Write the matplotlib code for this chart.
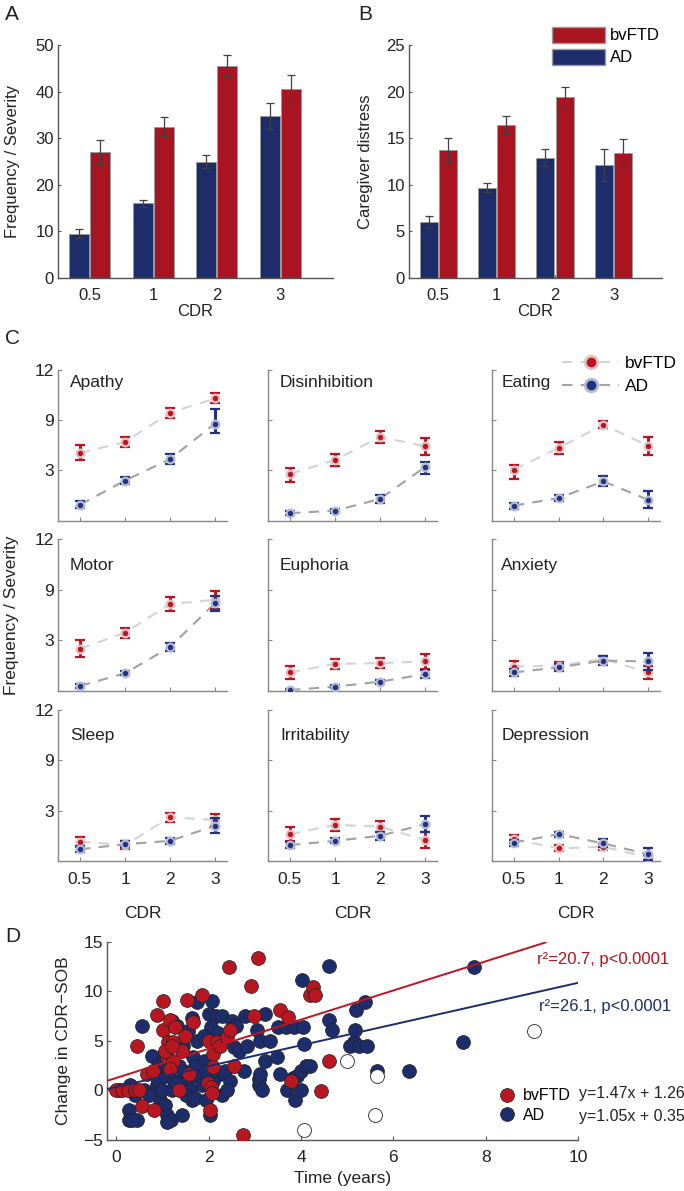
import numpy as np
import matplotlib
matplotlib.use('Agg')
import matplotlib.pyplot as plt
from matplotlib.lines import Line2D
from matplotlib.patches import Patch

plt.rcParams['font.family'] = ['Liberation Sans', 'DejaVu Sans']

# ---- data ----
cdr = ['0.5', '1', '2', '3']

# panel A: total NPI frequency x severity
ad_total = [9.5, 16.0, 25.0, 34.7]
ad_total_err = [1.0, 0.8, 1.5, 2.8]
ftd_total = [27.1, 32.5, 45.6, 40.6]
ftd_total_err = [2.6, 2.0, 2.2, 3.0]

# panel B: caregiver distress
ad_distress = [6.0, 9.7, 12.9, 12.1]
ad_distress_err = [0.6, 0.5, 0.9, 1.7]
ftd_distress = [13.7, 16.4, 19.4, 13.4]
ftd_distress_err = [1.3, 1.0, 1.1, 1.5]

# panel C: domains
domains = ['Apathy', 'Disinhibition', 'Eating',
           'Motor', 'Euphoria', 'Anxiety',
           'Sleep', 'Irritability', 'Depression']
ftd_dom = [[5.1, 6.4, 9.45, 10.3],
           [2.8, 4.25, 7.0, 5.9],
           [3.1, 5.7, 8.45, 5.95],
           [2.5, 3.9, 7.3, 7.8],
           [1.1, 1.6, 1.65, 1.75],
           [1.45, 1.5, 1.9, 1.1],
           [1.15, 0.95, 2.6, 2.45],
           [1.6, 2.15, 2.05, 1.25],
           [1.3, 0.75, 0.85, 0.22]]
ftd_dom_err = [[0.9, 0.6, 0.3, 0.3],
               [0.5, 0.7, 0.7, 1.0],
               [0.6, 0.7, 0.4, 1.1],
               [0.5, 0.6, 0.8, 1.1],
               [0.4, 0.3, 0.3, 0.45],
               [0.3, 0.2, 0.2, 0.36],
               [0.3, 0.24, 0.27, 0.36],
               [0.42, 0.36, 0.33, 0.5],
               [0.24, 0.18, 0.18, 0.15]]
ad_dom = [[0.95, 2.4, 4.35, 8.6],
          [0.45, 0.6, 1.3, 3.4],
          [0.9, 1.35, 2.35, 1.25],
          [0.3, 1.05, 2.6, 7.4],
          [0.06, 0.26, 0.55, 1.0],
          [1.1, 1.4, 1.8, 1.75],
          [0.7, 1.0, 1.2, 2.1],
          [0.95, 1.2, 1.5, 2.2],
          [1.1, 1.6, 1.05, 0.4]]
ad_dom_err = [[0.2, 0.2, 0.6, 1.1],
              [0.12, 0.12, 0.25, 0.6],
              [0.18, 0.18, 0.3, 0.5],
              [0.1, 0.12, 0.25, 0.9],
              [0.05, 0.08, 0.12, 0.24],
              [0.2, 0.2, 0.25, 0.5],
              [0.18, 0.18, 0.2, 0.45],
              [0.18, 0.15, 0.25, 0.48],
              [0.18, 0.15, 0.24, 0.36]]

# panel D: change in CDR-SOB over time
ftd_t = [0.0, 0.12, 0.25, 0.4, 0.5, 0.45, 0.55, 0.66, 0.8, 0.82, 0.88, 1.01, 1.02,
         1.06, 1.10, 1.13, 1.17, 1.24, 1.24, 1.17, 1.28, 1.35, 1.42, 1.49, 1.53,
         1.57, 1.66, 1.85, 1.98, 2.0, 2.05, 2.07, 2.03, 2.1, 2.1, 2.19, 2.25, 2.4,
         2.47, 2.45, 2.54, 2.74, 2.91, 2.99, 3.08, 3.54, 3.71, 3.78, 4.2, 4.26,
         4.31, 4.43, 4.6, 1.05, 1.2]
ftd_d = [0.0, 0.0, 0.0, 0.0, 0.0, 4.5, -1.6, 1.7, 2.0, -2.0, 7.6, 9.0, 6.05,
         3.9, 3.4, 4.9, 7.1, 4.9, 3.0, 2.2, 6.4, 0.0, 4.0, 5.5, 9.1,
         1.7, 6.9, 9.6, 0.7, 5.0, 0.3, -0.3, -2.0, 3.7, 2.4, 4.9, 4.5, 5.4,
         6.05, 12.4, 2.5, -4.5, 10.5, 7.5, 13.4, 8.1, 7.4, 1.0, 9.6, 10.4,
         9.6, -0.1, 3.0, 4.0, 4.5]
ad_t = [0.05, 0.3, 0.4, 0.27, 0.27, 0.45, 0.35, 0.56, 0.84, 0.88, 0.95, 0.9, 1.0,
        1.05, 1.1, 1.18, 1.05, 0.77, 1.2, 1.25, 1.3, 1.4, 1.45, 1.31, 1.42, 1.64,
        1.67, 1.75, 1.9, 2.0, 2.15, 2.28, 2.05, 2.2, 2.07, 2.03, 2.25, 2.35, 2.47,
        2.54, 2.65, 2.83, 2.76, 2.79, 3.04, 3.12, 3.22, 3.33, 3.22, 3.1, 3.1, 3.12,
        3.15, 3.48, 3.5, 3.68, 3.84, 3.55, 3.7, 3.82, 3.88, 3.92, 4.0, 4.12, 4.2,
        4.0, 4.02, 4.04, 4.07, 4.6, 4.6, 4.67, 5.14, 5.18, 5.2, 5.06, 5.25, 5.43,
        5.39, 5.64, 6.35, 7.52, 7.74, 1.55, 1.6, 1.7, 1.8, 1.85, 1.95, 2.1, 2.3,
        1.5, 1.7, 0.6, 0.7, 1.0, 1.55, 1.45, 1.75, 1.9, 2.5, 2.6, 2.4, 1.65, 1.2,
        0.9, 1.35, 1.95, 1.1]
ad_d = [0.0, 0.5, -0.5, -2.0, -3.0, -3.0, -3.0, 6.5, -0.3, 0.5, -1.0, 1.0, 0.0,
        -1.5, -2.5, -3.0, 1.5, 3.5, 0.0, 1.0, 0.7, 0.0, 2.0, 6.5, -2.5, -1.0,
        3.4, 8.9, 3.0, 7.7, 7.5, 7.5, 6.4, 5.8, 9.0, -2.5, 1.7, 2.0, 1.0,
        4.4, 4.0, 4.5, 2.0, 7.5, 6.05, 5.0, 7.7, 5.0, 3.0, 0.5, 1.2, 1.7,
        0.0, 3.4, 6.4, 6.4, 6.4, 1.7, 0.0, 1.3, -1.0, 1.5, 2.0, 2.5, 2.5,
        0.0, 11.1, 6.4, 4.7, 12.5, 7.1, 6.05, 4.9, 6.05, 8.1, 4.5, 4.5, 4.5,
        8.9, 2.0, 1.95, 4.9, 12.45, 1.0, 0.0, 2.5, 1.5, 0.5, 2.0, 1.0, -0.5,
        -0.5, -0.8, 0.0, -0.5, 3.0, 6.0, 4.5, 5.0, 5.5, 7.0, 6.5, 0.0, 7.3, 7.0,
        2.5, 2.5, -1.0, -3.2]
other_t = [4.99, 5.64, 5.61, 4.07, 9.05]
other_d = [3.0, 1.5, -2.5, -4.0, 6.0]
ftd_fit = (1.47, 1.26)
ad_fit = (1.05, 0.35)
ftd_fit_range = [-0.2, 9.3]
ad_fit_range = [-0.2, 10.0]

NAVY = '#1d2c6b'
RED = '#a8141f'
C_RED = '#c0121f'
C_BLUE = '#213184'
TXT = '#222222'

W, H = 684, 1191
fig = plt.figure(figsize=(W / 100, H / 100), dpi=100)


def add_ax(l, t, r, b):
    return fig.add_axes([l / W, 1 - b / H, (r - l) / W, (b - t) / H])


def clean(ax, color='#555555'):
    for s in ['top', 'right']:
        ax.spines[s].set_visible(False)
    for s in ['left', 'bottom']:
        ax.spines[s].set_color(color)
        ax.spines[s].set_linewidth(1.0)


x = np.arange(1, 5)


def bar_panel(ax, ad, ad_e, ftd, ftd_e, ymax, ystep, ylabel, ylab_x):
    ax.bar(x - 0.165, ad, 0.31, color=NAVY, edgecolor='#9a9a9a', lw=0.7, zorder=2)
    ax.bar(x + 0.165, ftd, 0.31, color=RED, edgecolor='#9a9a9a', lw=0.7, zorder=2)
    ax.errorbar(x - 0.165, ad, yerr=ad_e, fmt='none', ecolor='#404040',
                elinewidth=0.9, capsize=3, capthick=0.9, zorder=3)
    ax.errorbar(x + 0.165, ftd, yerr=ftd_e, fmt='none', ecolor='#404040',
                elinewidth=0.9, capsize=3, capthick=0.9, zorder=3)
    ax.set_xlim(0.5, 4.83)
    ax.set_ylim(0, ymax)
    ax.set_yticks(np.arange(0, ymax + 1, ystep))
    ax.set_xticks(x)
    ax.set_xticklabels(cdr)
    ax.tick_params(direction='in', length=2, labelsize=12, colors='#555555',
                   labelcolor=TXT)
    ax.tick_params(axis='x', pad=7)
    ax.tick_params(axis='y', pad=3)
    ax.set_xlabel('CDR', fontsize=12, color=TXT)
    ax.xaxis.set_label_coords(0.5, -0.113)
    ax.set_ylabel(ylabel, fontsize=12, color=TXT)
    ax.yaxis.set_label_coords(ylab_x, 0.5)
    clean(ax)


axA = add_ax(58, 45, 333, 278)
bar_panel(axA, ad_total, ad_total_err, ftd_total, ftd_total_err, 50, 10,
          'Frequency / Severity', -0.137)
axB = add_ax(409, 45, 662, 278)
bar_panel(axB, ad_distress, ad_distress_err, ftd_distress, ftd_distress_err, 25, 5,
          'Caregiver distress', -0.144)
axB.legend([Patch(facecolor=RED, edgecolor='#9a9a9a'),
            Patch(facecolor=NAVY, edgecolor='#9a9a9a')], ['bvFTD', 'AD'],
           loc='center left', bbox_to_anchor=(552 / W, 1 - 46 / H),
           bbox_transform=fig.transFigure, frameon=False, fontsize=12,
           handlelength=3.2, handleheight=1.1, handletextpad=0.3,
           labelspacing=0.34, borderpad=0, borderaxespad=0)


# panel C: piecewise axis, 0-3, 3-9 and 9-12 get equal height
def fwd(v):
    v = np.asarray(v, float)
    return np.where(v < 3, v / 3, np.where(v < 9, 1 + (v - 3) / 6, 2 + (v - 9) / 3))


def inv(u):
    u = np.asarray(u, float)
    return np.where(u < 1, u * 3, np.where(u < 2, 3 + (u - 1) * 6, 9 + (u - 2) * 3))


cols = [(58, 227), (268, 437), (492, 660)]
rows = [(370, 520.7), (539, 691), (710, 861)]
title_y = [0.887, 0.796, 0.801]
title_x = [0.071, 0.071, 0.055]
dash = (0, (5, 4))
for i, name in enumerate(domains):
    r, c = divmod(i, 3)
    ax = add_ax(cols[c][0], rows[r][0], cols[c][1], rows[r][1])
    ax.set_yscale('function', functions=(fwd, inv))
    ax.plot(x, ftd_dom[i], ls=dash, color='#d4d4d4', lw=1.5, zorder=1)
    ax.plot(x, ad_dom[i], ls=dash, color='#a2a2a2', lw=1.5, zorder=1)
    ax.errorbar(x, ftd_dom[i], yerr=ftd_dom_err[i], fmt='o', color=C_RED, ms=5.5,
                mec='#dcc4c6', mew=1.6, elinewidth=2.2, capsize=3.5, capthick=2.4,
                zorder=3)
    ax.errorbar(x, ad_dom[i], yerr=ad_dom_err[i], fmt='o', color=C_BLUE, ms=5.5,
                mec='#b4bad2', mew=1.6, elinewidth=2.2, capsize=3.5, capthick=2.4,
                zorder=4)
    ax.set_xlim(1 - 22 / 45, 4 + 12 / 45)
    ax.set_ylim(0, 12)
    ax.set_yticks([3, 9, 12])
    ax.set_xticks(x)
    ax.yaxis.set_minor_locator(matplotlib.ticker.NullLocator())
    ax.tick_params(direction='in', length=3, colors='#888888', labelcolor=TXT,
                   labelsize=12.5)
    ax.tick_params(axis='x', pad=8)
    ax.tick_params(axis='y', pad=3)
    if c == 0:
        ax.set_yticklabels(['3', '9', '12'])
    else:
        ax.set_yticklabels([])
    if r == 2:
        ax.set_xticklabels(cdr)
        ax.set_xlabel('CDR', fontsize=12.5, color=TXT)
        ax.xaxis.set_label_coords(0.5, -0.3)
    else:
        ax.set_xticklabels([])
    ax.text(title_x[c], title_y[r], name, transform=ax.transAxes, fontsize=12.5,
            color=TXT, va='baseline')
    clean(ax, '#888888')

fig.text(12 / W, 1 - 615 / H, 'Frequency / Severity', rotation=90, ha='center',
         va='center', fontsize=12.5, color=TXT)
fig.legend([Line2D([], [], ls=dash, color='#d4d4d4', lw=1.5, marker='o', ms=9,
                   mfc=C_RED, mec='#dcc4c6', mew=2),
            Line2D([], [], ls=dash, color='#a2a2a2', lw=1.5, marker='o', ms=9,
                   mfc=C_BLUE, mec='#b4bad2', mew=2)],
           ['bvFTD', 'AD'], loc='center left', bbox_to_anchor=(562 / W, 1 - 375 / H),
           frameon=False, fontsize=12.5, handlelength=3.3, handletextpad=0.3,
           labelspacing=0.45, borderpad=0, borderaxespad=0)

# panel D
axD = add_ax(107, 941.7, 578, 1140)
axD.scatter(ad_t, ad_d, s=100, color=NAVY, edgecolor='#222222', lw=0.5, zorder=2)
axD.scatter(ftd_t, ftd_d, s=100, color='#b81620', edgecolor='#222222', lw=0.5,
            zorder=3)
axD.scatter(other_t, other_d, s=100, color='white', edgecolor='#222222', lw=0.6,
            zorder=3)
fx = np.array(ftd_fit_range)
axD.plot(fx, ftd_fit[0] * fx + ftd_fit[1], color='#c0141e', lw=1.4, zorder=4)
bx = np.array(ad_fit_range)
axD.plot(bx, ad_fit[0] * bx + ad_fit[1], color=NAVY, lw=1.4, zorder=4)
axD.set_xlim(-0.2, 10)
axD.set_ylim(-5, 15)
axD.set_xticks(np.arange(0, 11, 2))
axD.set_yticks(np.arange(-5, 16, 5))
axD.set_yticklabels(['\u22125', '0', '5', '10', '15'])
axD.tick_params(direction='in', length=3, colors='#555555', labelcolor=TXT,
                labelsize=12.5)
axD.tick_params(axis='x', pad=7)
axD.tick_params(axis='y', pad=3)
axD.set_xlabel('Time (years)', fontsize=12.5, color=TXT)
axD.xaxis.set_label_coords(0.5, -0.155)
axD.set_ylabel('Change in CDR\u2212SOB', fontsize=12.5, color=TXT)
axD.yaxis.set_label_coords(-0.077, 0.5)
clean(axD)
axD.text(0.913, 0.908, 'r\u00b2=20.7, p<0.0001', transform=axD.transAxes,
         color='#b5121b', fontsize=12, va='center')
axD.text(0.917, 0.672, 'r\u00b2=26.1, p<0.0001', transform=axD.transAxes,
         color=NAVY, fontsize=12, va='center')
axD.legend([Line2D([], [], ls='none', marker='o', ms=10, mfc='#b81620', mec='#222222', mew=0.5),
            Line2D([], [], ls='none', marker='o', ms=10, mfc=NAVY, mec='#222222', mew=0.5)],
           ['bvFTD', 'AD'], loc='center left', bbox_to_anchor=(0.833, 0.174),
           frameon=False, fontsize=11.5, handlelength=1.0, handletextpad=0.45,
           labelspacing=0.3, borderpad=0, borderaxespad=0)
axD.text(1.002, 0.232, 'y=1.47x + 1.26', transform=axD.transAxes, fontsize=11.5,
         color=TXT, va='center')
axD.text(1.002, 0.116, 'y=1.05x + 0.35', transform=axD.transAxes, fontsize=11.5,
         color=TXT, va='center')

# panel letters
for letter, px, py in [('A', 5, 15), ('B', 358, 15), ('C', 5, 338), ('D', 5, 937)]:
    fig.text(px / W, 1 - py / H, letter, fontsize=15, color=TXT, va='center')

fig.savefig('out.png', dpi=100)
